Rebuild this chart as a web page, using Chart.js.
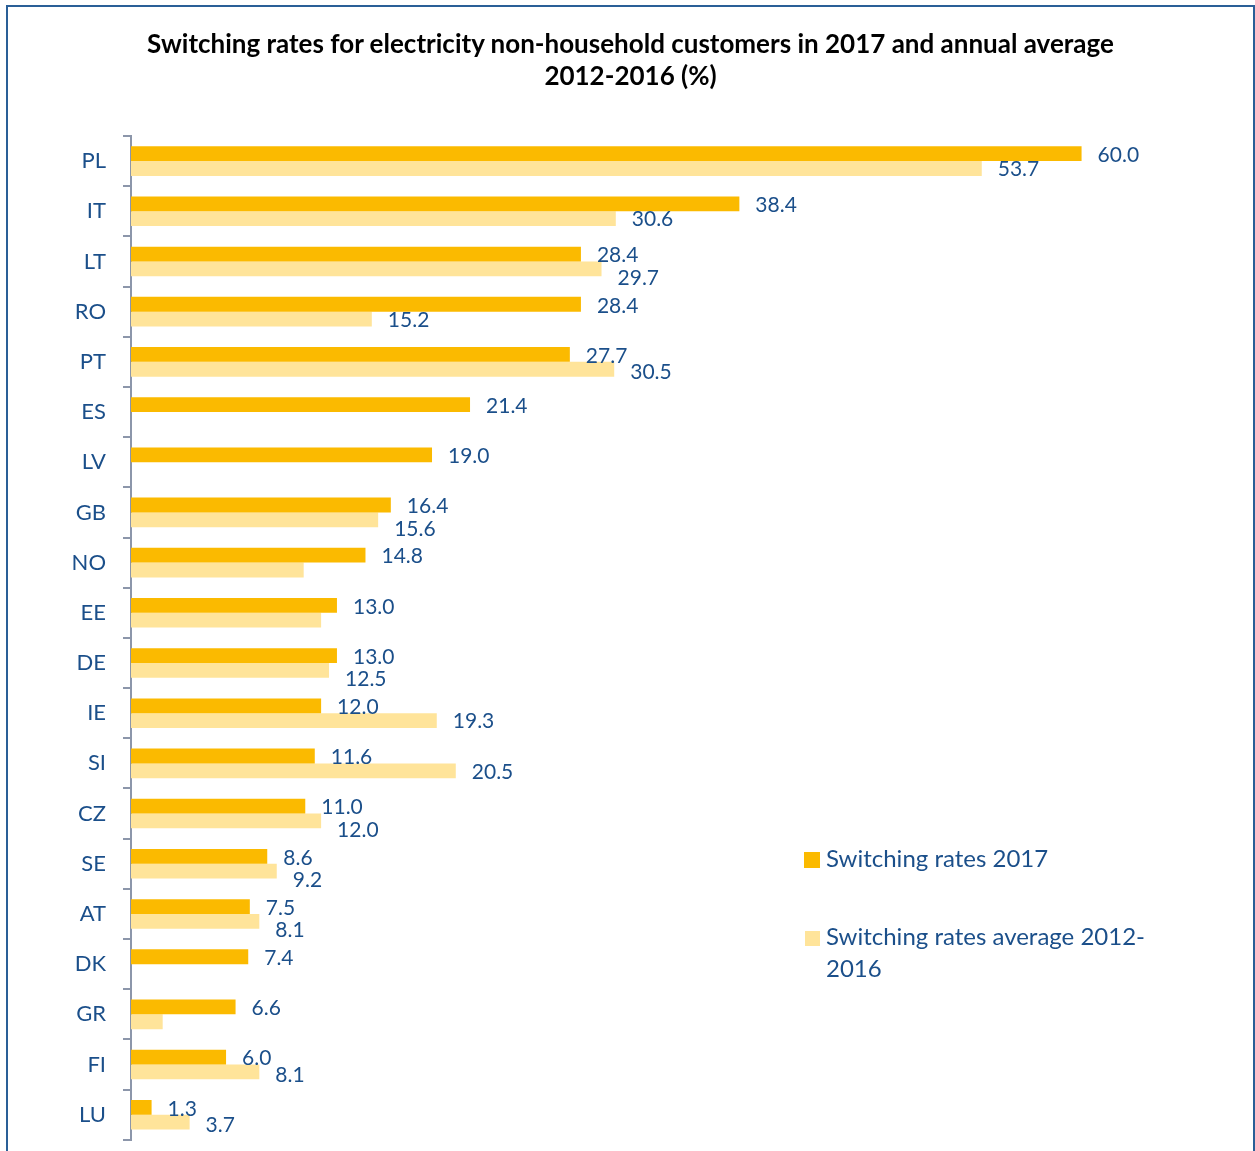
<!DOCTYPE html>
<html>
<head>
<meta charset="utf-8">
<script src="https://cdn.jsdelivr.net/npm/chart.js@4/dist/chart.umd.min.js"></script>
<style>
  html, body { margin: 0; padding: 0; background: #fff; overflow: hidden; }
  #wrap { position: relative; width: 1255px; height: 1151px; overflow: hidden; }
  #frame { position: absolute; left: 6px; top: 5px; width: 1249px; height: 1200px; border: 2px solid #2A5F97; box-sizing: border-box; }
  #title { position: absolute; left: 3px; top: 27px; width: 1255px; text-align: center; font-family: Lato, "Open Sans", sans-serif; font-weight: bold; font-size: 26px; line-height: 32px; color: #000; }
  .leg { position: absolute; font-family: Lato, "Open Sans", sans-serif; font-size: 24px; line-height: 32px; color: #1B4F8A; white-space: nowrap; }
  .sw { position: absolute; }
  canvas { position: absolute; left: 0; top: 0; }
</style>
</head>
<body>
<div id="wrap">
  <div id="frame"></div>
  <canvas id="c" width="1255" height="1170"></canvas>
  <div id="title">Switching rates for electricity non-household customers in 2017 and annual average<br>2012-2016 (%)</div>
  <div class="sw" style="left:804px;top:852px;width:16px;height:16px;background:#FBBA00;"></div>
  <div class="leg" style="left:826px;top:842px;">Switching rates 2017</div>
  <div class="sw" style="left:805px;top:931px;width:15px;height:15px;background:#FFE49A;"></div>
  <div class="leg" style="left:826px;top:920px;">Switching rates average 2012-<br>2016</div>
</div>
<script>
const categories = ['PL','IT','LT','RO','PT','ES','LV','GB','NO','EE','DE','IE','SI','CZ','SE','AT','DK','GR','FI','LU'];
const rates2017 = [60.0, 38.4, 28.4, 28.4, 27.7, 21.4, 19.0, 16.4, 14.8, 13.0, 13.0, 12.0, 11.6, 11.0, 8.6, 7.5, 7.4, 6.6, 6.0, 1.3];
const ratesAvg = [53.7, 30.6, 29.7, 15.2, 30.5, null, null, 15.6, 10.9, 12.0, 12.5, 19.3, 20.5, 12.0, 9.2, 8.1, null, 2.0, 8.1, 3.7];
const avgLabelHidden = ['NO', 'EE', 'GR'];
const seriesNames = ['Switching rates 2017', 'Switching rates average 2012-2016'];

const LABEL_FONT = '21px Lato, "Open Sans", sans-serif';
const LABEL_COLOR = '#1B4F8A';

const valueLabels = {
  id: 'valueLabels',
  afterDatasetsDraw(chart) {
    const ctx = chart.ctx;
    const m0 = chart.getDatasetMeta(0);
    const m1 = chart.getDatasetMeta(1);
    ctx.save();
    ctx.font = LABEL_FONT;
    ctx.fillStyle = LABEL_COLOR;
    ctx.textAlign = 'left';
    ctx.textBaseline = 'middle';
    categories.forEach((cat, i) => {
      const b0 = m0.data[i];
      const t0 = rates2017[i].toFixed(1);
      const x0 = b0.x + 16;
      const w0 = ctx.measureText(t0).width;
      ctx.fillText(t0, x0, b0.y + 1.5);
      const v1 = ratesAvg[i];
      if (v1 === null || avgLabelHidden.includes(cat)) return;
      const b1 = m1.data[i];
      const t1 = v1.toFixed(1);
      const x1 = b1.x + 16;
      const w1 = ctx.measureText(t1).width;
      let dy = 1;
      const overlap = x1 < x0 + w0 && x0 < x1 + w1;
      const gap = x1 >= x0 + w0 ? x1 - (x0 + w0) : x0 - (x1 + w1);
      if (overlap) dy = 9;
      else if (gap < 12) dy = 3;
      ctx.fillText(t1, x1, b1.y + dy);
    });
    ctx.restore();
  }
};

new Chart(document.getElementById('c'), {
  type: 'bar',
  data: {
    labels: categories,
    datasets: [
      { label: seriesNames[0], data: rates2017, backgroundColor: '#FBBA00', borderWidth: 0 },
      { label: seriesNames[1], data: ratesAvg, backgroundColor: '#FFE49A', borderWidth: 0 }
    ]
  },
  options: {
    indexAxis: 'y',
    responsive: false,
    animation: false,
    events: [],
    layout: { padding: { top: 136, bottom: 12, left: 0, right: 15 } },
    datasets: { bar: { categoryPercentage: 0.59, barPercentage: 1.0 } },
    plugins: { legend: { display: false }, title: { display: false }, tooltip: { enabled: false } },
    scales: {
      x: { display: false, min: 0, max: 70 },
      y: {
        afterFit(s) { s.width = 131; },
        grid: { drawOnChartArea: false, offset: true, tickLength: 8, color: '#8C96AA', lineWidth: 2 },
        border: { display: true, color: '#8C96AA', width: 2 },
        ticks: { color: LABEL_COLOR, font: { family: 'Lato, "Open Sans", sans-serif', size: 22 }, padding: 17 }
      }
    }
  },
  plugins: [valueLabels]
});
</script>
</body>
</html>
